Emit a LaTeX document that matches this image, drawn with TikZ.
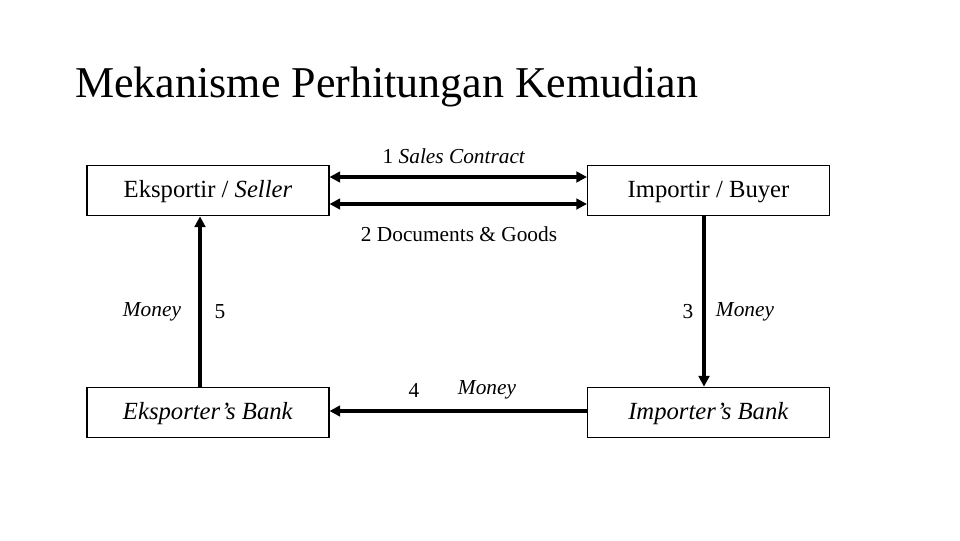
\documentclass[tikz,border=0pt]{standalone}
\usepackage{fontspec}
\setmainfont{Liberation Serif}
\usetikzlibrary{arrows.meta}
\begin{document}
\begin{tikzpicture}[x=0.75pt,y=-0.75pt,
  box/.style={draw,line width=0.8pt,minimum width=181.5pt,minimum height=38pt,inner sep=0pt,text height=13pt,text depth=3pt,font=\fontsize{18.5}{22}\selectfont},
  lab/.style={font=\fontsize{16}{19}\selectfont,inner sep=0pt},
  arr/.style={line width=3pt,-{Triangle[length=8pt,width=8pt]}},
  darr/.style={line width=3pt,{Triangle[length=8pt,width=8pt]}-{Triangle[length=8pt,width=8pt]}}]
\useasboundingbox (0,0) rectangle (960,540);
\node[anchor=base west,font=\fontsize{33}{38}\selectfont,inner sep=0pt] (title) at (75,97) {Mekanisme Perhitungan Kemudian};
\node[box] (es) at (208,190.5) {Eksportir / \textit{Seller}};
\node[box] (ib) at (708.5,190.5) {Importir / Buyer};
\node[box] (eb) at (208,412.5) {\textit{Eksporter’s Bank}};
\node[box] (ibk) at (708.5,412.5) {\textit{Importer’s Bank}};
\draw[darr] (es.east|-0,177) -- (ib.west|-0,177);
\draw[darr] (es.east|-0,204) -- (ib.west|-0,204);
\draw[arr] (ib.south-|704,0) -- (ibk.north-|704,0);
\draw[arr] (ibk.west|-0,411) -- (eb.east|-0,411);
\draw[arr] (eb.north-|200,0) -- (es.south-|200,0);
\node[lab] (l1) at (454,156) {1 \textit{Sales Contract}};
\node[lab] (l2) at (459,234) {2 Documents \& Goods};
\node[lab] (m5) at (152,312) {\textit{Money}};
\node[lab] (n5) at (220,312) {5};
\node[lab] (n3) at (688,312) {3};
\node[lab] (m3) at (745,312) {\textit{Money}};
\node[lab] (n4) at (414,390) {4};
\node[lab] (m4) at (487,390) {\textit{Money}};
\end{tikzpicture}
\end{document}
